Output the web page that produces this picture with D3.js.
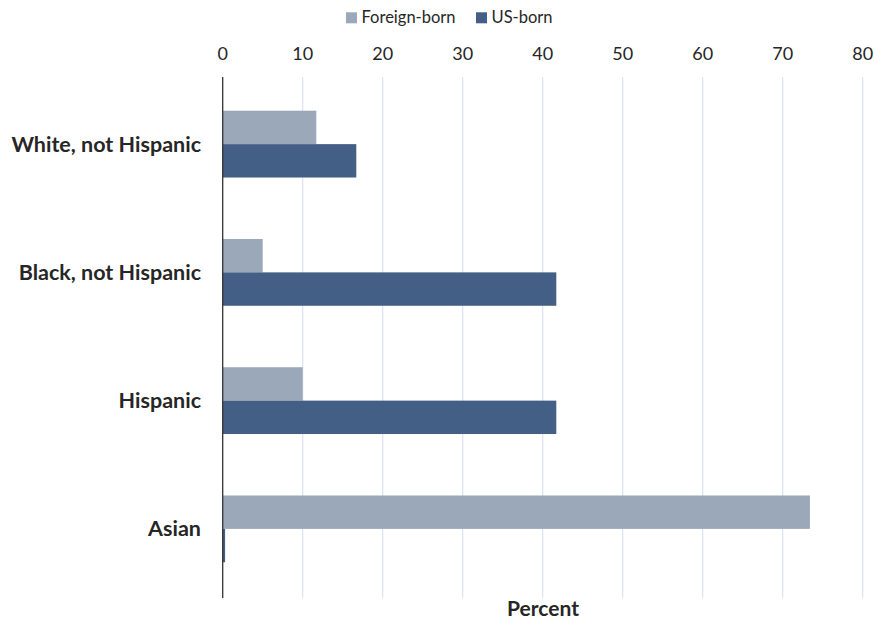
<!DOCTYPE html>
<html>
<head>
<meta charset="utf-8">
<script src="https://cdn.jsdelivr.net/npm/d3@7"></script>
<style>
  body { margin: 0; background: #fff; }
  text { font-family: Lato, "Open Sans", sans-serif; fill: #262626; }
</style>
</head>
<body>
<svg id="chart" width="874" height="623"></svg>
<script>
// chart data
var categories = ["White, not Hispanic", "Black, not Hispanic", "Hispanic", "Asian"]
var foreignBorn = [11.7, 5.0, 10.0, 73.4]
var usBorn = [16.7, 41.7, 41.7, 0.3]
var seriesNames = ["Foreign-born", "US-born"]
var xTicks = [0, 10, 20, 30, 40, 50, 60, 70, 80]

var colors = {"Foreign-born": "#9BA8B9", "US-born": "#445F86"}

var svg = d3.select("#chart")
var padding = {t: 80, r: 11, b: 30, l: 222.7}

var x = d3.scaleLinear()
	.domain([0, 80])
	.range([padding.l, padding.l + 640])

var y = d3.scaleBand()
	.domain(categories)
	.range([padding.t, padding.t + 513])

var barH = 33.4

// gridlines
svg.append("g")
	.selectAll("line")
	.data(xTicks.slice(1))
	.join("line")
	.attr("x1", function(d) { return x(d) })
	.attr("x2", function(d) { return x(d) })
	.attr("y1", padding.t - 3)
	.attr("y2", 598)
	.attr("stroke", "#DDE4F0")
	.attr("stroke-width", 1.3)

// top axis labels
svg.append("g")
	.selectAll("text")
	.data(xTicks)
	.join("text")
	.attr("x", function(d) { return x(d) })
	.attr("y", 60)
	.attr("text-anchor", "middle")
	.style("font-size", "18px")
	.text(function(d) { return d })

var rows = categories.map(function(c, i) {
	return {cat: c, vals: [
		{s: "Foreign-born", v: foreignBorn[i]},
		{s: "US-born", v: usBorn[i]}
	]}
})

var groups = svg.append("g")
	.selectAll("g")
	.data(rows)
	.join("g")
	.attr("transform", function(d) {
		return "translate(0," + (y(d.cat) + y.bandwidth() / 2 - barH) + ")"
	})

groups.selectAll("rect")
	.data(function(d) { return d.vals })
	.join("rect")
	.attr("x", x(0))
	.attr("y", function(d, i) { return i * barH })
	.attr("width", function(d) { return x(d.v) - x(0) })
	.attr("height", barH)
	.attr("fill", function(d) { return colors[d.s] })

// category labels
svg.append("g")
	.selectAll("text")
	.data(categories)
	.join("text")
	.attr("x", 201)
	.attr("y", function(d) { return y(d) + y.bandwidth() / 2 })
	.attr("dy", "0.35em")
	.attr("text-anchor", "end")
	.style("font-size", "21.5px")
	.style("font-weight", "bold")
	.text(function(d) { return d })

// vertical axis line
svg.append("line")
	.attr("x1", x(0))
	.attr("x2", x(0))
	.attr("y1", padding.t - 3)
	.attr("y2", 598)
	.attr("stroke", "#333")
	.attr("stroke-width", 1.3)

// axis title
svg.append("text")
	.attr("x", 543)
	.attr("y", 616)
	.attr("text-anchor", "middle")
	.style("font-size", "21px")
	.style("font-weight", "bold")
	.text("Percent")

// legend
var legend = svg.append("g")
	.selectAll("g")
	.data(seriesNames)
	.join("g")
	.attr("transform", function(d, i) { return "translate(" + [i == 0 ? 346 : 476, 12.3] + ")" })

legend.append("rect")
	.attr("width", 11)
	.attr("height", 11)
	.attr("fill", function(d) { return colors[d] })

legend.append("text")
	.attr("x", 15.5)
	.attr("y", 11)
	.style("font-size", "16.5px")
	.text(function(d) { return d })
</script>
</body>
</html>
